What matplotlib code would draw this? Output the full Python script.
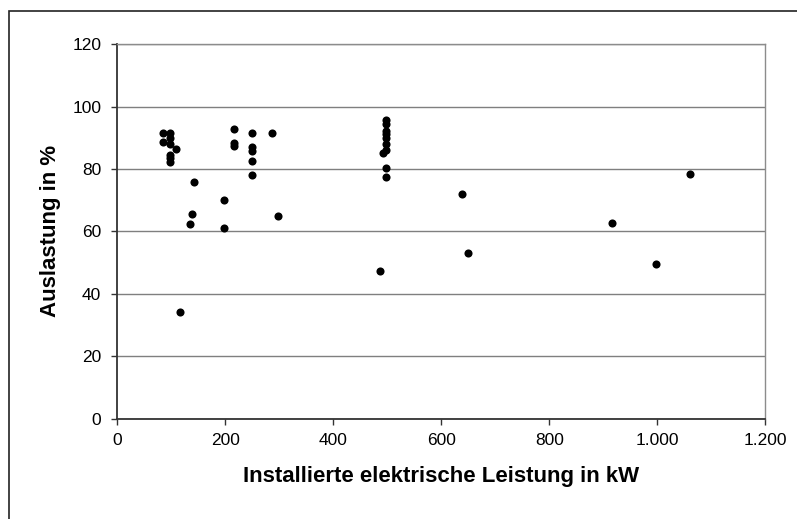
import matplotlib
matplotlib.use("Agg")
import matplotlib.pyplot as plt
from matplotlib.ticker import FuncFormatter, MultipleLocator

plt.rcParams["font.family"] = ["Liberation Sans", "DejaVu Sans"]

# installed electrical power (kW) and utilisation (%)
leistung_kw = [
    85, 98, 85, 98, 98, 108, 98, 98, 98,
    116, 134, 138, 142, 197, 197,
    216, 216, 216, 249, 249, 249, 249, 249, 286, 297,
    486, 492, 497, 497, 497, 497, 497, 497, 497, 497, 497,
    638, 649, 917, 998, 1060,
]
auslastung_pct = [
    91.5, 91.5, 88.8, 90.0, 88.0, 86.4, 84.5, 83.5, 82.4,
    34.3, 62.5, 65.7, 76.0, 70.2, 61.2,
    92.7, 88.5, 87.5, 91.5, 87.0, 85.7, 82.5, 78.0, 91.5, 65.1,
    47.3, 85.2, 95.6, 94.6, 92.3, 91.2, 90.0, 88.1, 86.0, 80.4, 77.3,
    72.0, 53.0, 62.6, 49.7, 78.5,
]

x_label = "Installierte elektrische Leistung in kW"
y_label = "Auslastung in %"


def thousands(v, pos):
    return f"{v:,.0f}".replace(",", ".")


fig = plt.figure(figsize=(7.97, 5.19), dpi=100)
ax = fig.add_axes([0.1472, 0.1936, 0.8130, 0.7210])

ax.scatter(leistung_kw, auslastung_pct, s=34, color="black", zorder=3, linewidths=0)

ax.set_xlim(0, 1200)
ax.set_ylim(0, 120)
ax.xaxis.set_major_locator(MultipleLocator(200))
ax.yaxis.set_major_locator(MultipleLocator(20))
ax.xaxis.set_major_formatter(FuncFormatter(thousands))
ax.grid(axis="y", color="#7f7f7f", lw=1.0)
ax.set_axisbelow(True)

for side in ("left", "bottom"):
    ax.spines[side].set_color("#333333")
    ax.spines[side].set_linewidth(1.3)
for side in ("top", "right"):
    ax.spines[side].set_color("#8c8c8c")
    ax.spines[side].set_linewidth(1.0)

ax.tick_params(direction="out", length=4.5, width=1, color="#333333",
               labelsize=12.5, labelcolor="black")
ax.tick_params(axis="x", pad=6)
ax.tick_params(axis="y", pad=7)

ax.set_xlabel(x_label, fontsize=16, fontweight="bold", labelpad=13)
ax.set_ylabel(y_label, fontsize=16, fontweight="bold", labelpad=8)

# outer chart frame
fig.add_artist(plt.Rectangle((9 / 797, -0.5), 1.5, 0.5 + 1 - 10.7 / 519,
                             transform=fig.transFigure, fill=False,
                             edgecolor="#222222", lw=1.2))

fig.savefig("out.png", dpi=100)
